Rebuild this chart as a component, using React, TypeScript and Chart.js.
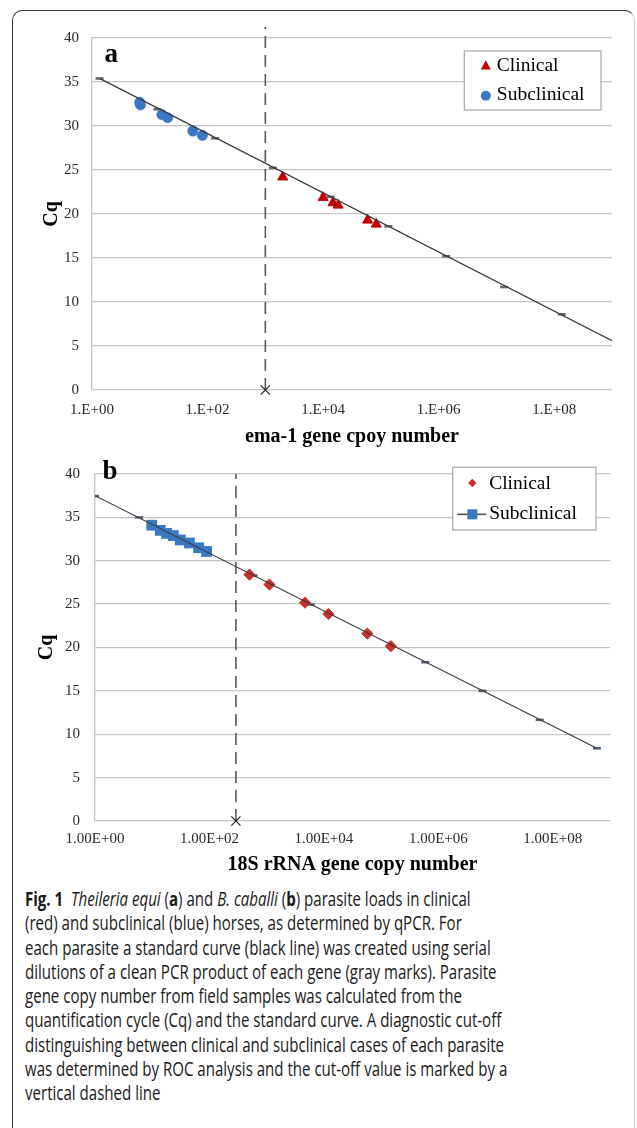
import React, { useEffect, useRef } from 'react';
import { Chart, registerables } from 'chart.js';

Chart.register(...registerables);

// ---------- Panel a: ema-1 (Theileria equi) ----------
const aStdX = [1.35, 13.5, 135, 1350, 13500, 135000, 1350000, 13500000, 135000000];
const aStdY = [35.4, 31.9, 28.6, 25.25, 21.95, 18.6, 15.2, 11.7, 8.6];
const aTrendX = [1.35, 1e9];
const aTrendY = [35.41, 5.6];
const aClinicalX = [2000, 10000, 14800, 18200, 58900, 83200];
const aClinicalY = [24.2, 21.87, 21.26, 21.0, 19.3, 18.84];
const aSubclinicalX = [6.7, 6.9, 16.2, 20.4, 55.6, 81.3];
const aSubclinicalY = [32.7, 32.4, 31.3, 30.95, 29.43, 28.94];
const aCutoffX = [1000, 1000];
const aCutoffY = [0, 41.25];
const aTickValues = [1, 1e2, 1e4, 1e6, 1e8];
const aTickLabels = ['1.E+00', '1.E+02', '1.E+04', '1.E+06', '1.E+08'];

// ---------- Panel b: 18S rRNA (B. caballi) ----------
const bStdX = [1, 5.9, 59, 590, 5900, 59000, 590000, 5900000, 59000000, 590000000];
const bStdY = [37.45, 35.0, 31.62, 28.3, 24.95, 21.66, 18.3, 15.0, 11.66, 8.38];
const bTrendX = [1, 590000000];
const bTrendY = [37.5, 8.38];
const bClinicalX = [500, 1120, 4680, 12000, 57500, 148000];
const bClinicalY = [28.4, 27.25, 25.17, 23.86, 21.6, 20.15];
const bSubclinicalX = [9.8, 13.8, 17.8, 23.4, 30.9, 44.7, 64.6, 89.1];
const bSubclinicalY = [34.1, 33.5, 33.15, 32.9, 32.4, 32.05, 31.5, 31.07];
const bCutoffX = [290, 290];
const bCutoffY = [0, 40];
const bTickValues = [1, 1e2, 1e4, 1e6, 1e8];
const bTickLabels = ['1.00E+00', '1.00E+02', '1.00E+04', '1.00E+06', '1.00E+08'];

const SERIF = "'Liberation Serif', 'Times New Roman', serif";
const GRID = '#c4c4c4';
const RED_A = '#c00000';
const BLUE = '#3b78c4';
const RED_B = '#c8302e';

const xy = (xs: number[], ys: number[]) => xs.map((x, i) => ({ x, y: ys[i] }));

type PanelSpec = {
  letter: string;
  variant: 'a' | 'b';
  stdX: number[]; stdY: number[];
  trendX: number[]; trendY: number[];
  clinX: number[]; clinY: number[];
  subX: number[]; subY: number[];
  cutX: number[]; cutY: number[];
  tickValues: number[]; tickLabels: string[];
  xTitle: string;
  pad: { top: number; right: number };
  yWidth: number; xHeight: number;
  yTitlePad: number; xTitlePad: number; xTickPad: number; yTickPad: number;
  stdColor: string;
  legendBox: [number, number, number, number];
  letterPos: [number, number];
};

function overlayPlugin(p: PanelSpec) {
  return {
    id: 'overlay' + p.variant,
    afterDraw(chart: any) {
      const ctx: CanvasRenderingContext2D = chart.ctx;
      ctx.save();
      // panel letter
      ctx.fillStyle = '#000';
      ctx.font = `bold 27px ${SERIF}`;
      ctx.textBaseline = 'alphabetic';
      ctx.textAlign = 'left';
      ctx.fillText(p.letter, p.letterPos[0], p.letterPos[1]);
      // legend box
      const [lx, ly, lw, lh] = p.legendBox;
      ctx.fillStyle = '#fff';
      ctx.fillRect(lx, ly, lw, lh);
      ctx.strokeStyle = '#a8a8a8';
      ctx.lineWidth = 1.2;
      ctx.strokeRect(lx, ly, lw, lh);
      const row1 = ly + lh * 0.25;
      const row2 = ly + lh * 0.75;
      ctx.font = `19.5px ${SERIF}`;
      ctx.textBaseline = 'middle';
      ctx.fillStyle = '#000';
      if (p.variant === 'a') {
        const mx = lx + 21.5;
        ctx.fillStyle = RED_A;
        ctx.beginPath();
        ctx.moveTo(mx, row1 - 5.5);
        ctx.lineTo(mx + 5, row1 + 3.8);
        ctx.lineTo(mx - 5, row1 + 3.8);
        ctx.closePath();
        ctx.fill();
        ctx.fillStyle = BLUE;
        ctx.beginPath();
        ctx.arc(mx, row2 + 0.5, 5, 0, Math.PI * 2);
        ctx.fill();
        ctx.fillStyle = '#000';
        ctx.fillText('Clinical', lx + 32.5, row1 + 0.5);
        ctx.fillText('Subclinical', lx + 32.5, row2);
      } else {
        const mx = lx + 19.6;
        ctx.fillStyle = RED_B;
        ctx.beginPath();
        ctx.moveTo(mx, row1 - 4.2);
        ctx.lineTo(mx + 4.2, row1);
        ctx.lineTo(mx, row1 + 4.2);
        ctx.lineTo(mx - 4.2, row1);
        ctx.closePath();
        ctx.fill();
        ctx.strokeStyle = '#555';
        ctx.lineWidth = 1.6;
        ctx.beginPath();
        ctx.moveTo(lx + 4.5, row2);
        ctx.lineTo(lx + 33.5, row2);
        ctx.stroke();
        ctx.fillStyle = BLUE;
        ctx.fillRect(mx - 5, row2 - 5, 10, 10);
        ctx.fillStyle = '#000';
        ctx.fillText('Clinical', lx + 36.5, row1 + 0.5);
        ctx.fillText('Subclinical', lx + 36.5, row2);
      }
      ctx.restore();
    },
  };
}

function buildConfig(p: PanelSpec): any {
  const tickFont = { family: SERIF, size: 15 };
  const titleFont = { family: SERIF, size: 20, weight: 'bold' as const };
  return {
    type: 'scatter',
    data: {
      datasets: [
        {
          label: 'trend',
          data: xy(p.trendX, p.trendY),
          showLine: true,
          borderColor: '#3a3a3a',
          borderWidth: 1.2,
          pointRadius: 0,
          order: 0,
        },
        p.variant === 'a'
          ? {
              label: 'Clinical',
              data: xy(p.clinX, p.clinY),
              pointStyle: 'triangle',
              pointRadius: 5.8,
              backgroundColor: RED_A,
              borderColor: RED_A,
              borderWidth: 1,
              order: 1,
            }
          : {
              label: 'Clinical',
              data: xy(p.clinX, p.clinY),
              pointStyle: 'rectRot',
              pointRadius: 5.6,
              backgroundColor: RED_B,
              borderColor: RED_B,
              borderWidth: 1,
              order: 1,
            },
        p.variant === 'a'
          ? {
              label: 'Subclinical',
              data: xy(p.subX, p.subY),
              pointStyle: 'circle',
              pointRadius: 5.2,
              backgroundColor: BLUE,
              borderColor: BLUE,
              borderWidth: 0.5,
              order: 1,
            }
          : {
              label: 'Subclinical',
              data: xy(p.subX, p.subY),
              pointStyle: 'rect',
              pointRadius: 7.6,
              backgroundColor: BLUE,
              borderColor: BLUE,
              borderWidth: 0,
              order: 1,
            },
        {
          label: 'standards',
          data: xy(p.stdX, p.stdY),
          pointStyle: 'line',
          pointRadius: 4,
          borderColor: p.stdColor,
          borderWidth: 2.6,
          order: 2,
        },
        {
          label: 'cutoff',
          data: xy(p.cutX, p.cutY),
          showLine: true,
          borderColor: '#5a5a5a',
          borderWidth: 1.6,
          borderDash: [12, 7],
          pointStyle: 'crossRot',
          pointRadius: [6.5, 0],
          pointBorderColor: '#222',
          pointBorderWidth: 1.2,
          clip: false,
          order: 3,
        },
      ],
    },
    options: {
      responsive: false,
      animation: false,
      devicePixelRatio: 1,
      events: [],
      layout: { padding: { top: p.pad.top, right: p.pad.right, left: 0, bottom: 0 } },
      plugins: { legend: { display: false }, tooltip: { enabled: false } },
      scales: {
        x: {
          type: 'logarithmic',
          position: 'bottom',
          min: 1,
          max: 1e9,
          grid: { display: false, drawTicks: false },
          border: { display: false },
          afterBuildTicks: (axis: any) => {
            axis.ticks = p.tickValues.map((v) => ({ value: v }));
          },
          ticks: {
            autoSkip: false,
            maxRotation: 0,
            padding: p.xTickPad,
            color: '#2a2a2a',
            font: tickFont,
            callback: (_v: any, i: number) => p.tickLabels[i],
          },
          title: {
            display: true,
            text: p.xTitle,
            color: '#000',
            font: titleFont,
            padding: { top: 0, bottom: p.xTitlePad },
          },
          afterFit: (axis: any) => {
            axis.height = p.xHeight;
          },
        },
        y: {
          type: 'linear',
          min: 0,
          max: 40,
          grid: { color: GRID, lineWidth: 1.3, drawTicks: false },
          border: { display: true, color: GRID, width: 1.3 },
          ticks: { stepSize: 5, padding: p.yTickPad, color: '#2a2a2a', font: tickFont },
          title: {
            display: true,
            text: 'Cq',
            color: '#000',
            font: titleFont,
            padding: { top: p.yTitlePad, bottom: 0 },
          },
          afterFit: (axis: any) => {
            axis.width = p.yWidth;
          },
        },
      },
    },
    plugins: [overlayPlugin(p)],
  };
}

const panelA: PanelSpec = {
  letter: 'a',
  variant: 'a',
  stdX: aStdX, stdY: aStdY,
  trendX: aTrendX, trendY: aTrendY,
  clinX: aClinicalX, clinY: aClinicalY,
  subX: aSubclinicalX, subY: aSubclinicalY,
  cutX: aCutoffX, cutY: aCutoffY,
  tickValues: aTickValues, tickLabels: aTickLabels,
  xTitle: 'ema-1 gene cpoy number',
  pad: { top: 38, right: 25 },
  yWidth: 92, xHeight: 60,
  yTitlePad: 40, xTitlePad: 1.3, xTickPad: 11, yTickPad: 13,
  stdColor: '#6a6a6a',
  legendBox: [464.3, 51, 136.7, 59],
  letterPos: [104.5, 62],
};

const panelB: PanelSpec = {
  letter: 'b',
  variant: 'b',
  stdX: bStdX, stdY: bStdY,
  trendX: bTrendX, trendY: bTrendY,
  clinX: bClinicalX, clinY: bClinicalY,
  subX: bSubclinicalX, subY: bSubclinicalY,
  cutX: bCutoffX, cutY: bCutoffY,
  tickValues: bTickValues, tickLabels: bTickLabels,
  xTitle: '18S rRNA gene copy number',
  pad: { top: 5, right: 27 },
  yWidth: 95, xHeight: 59,
  yTitlePad: 35, xTitlePad: 3, xTickPad: 9.3, yTickPad: 15,
  stdColor: '#56667a',
  legendBox: [452.7, 17.3, 143.3, 62.7],
  letterPos: [102.5, 29.3],
};

function PanelChart({ spec, top, height }: { spec: PanelSpec; top: number; height: number }) {
  const ref = useRef<HTMLCanvasElement>(null);
  useEffect(() => {
    if (!ref.current) return;
    const chart = new Chart(ref.current, buildConfig(spec));
    return () => chart.destroy();
  }, [spec]);
  return (
    <canvas
      ref={ref}
      width={637}
      height={height}
      style={{ position: 'absolute', left: 0, top, width: 637, height }}
    />
  );
}

const captionStyle: React.CSSProperties = {
  position: 'absolute',
  left: 24.7,
  top: 887,
  fontFamily: "'Open Sans', 'Noto Sans', sans-serif",
  fontSize: 19.5,
  lineHeight: '24.3px',
  color: '#1a1a1a',
  whiteSpace: 'nowrap',
  transform: 'scaleX(0.772)',
  transformOrigin: 'left top',
};

export default function App() {
  return (
    <div
      style={{
        position: 'absolute',
        left: 0,
        top: 0,
        width: 637,
        height: 1128,
        overflow: 'hidden',
        background: '#fff',
      }}
    >
      <div
        style={{
          position: 'absolute',
          left: 12,
          top: 10,
          width: 621,
          height: 1160,
          borderLeft: '1.5px solid #3a3a3a',
          borderTop: '1.5px solid #3a3a3a',
          borderRight: '1.5px solid #d0d0d0',
          borderTopLeftRadius: 10,
          borderTopRightRadius: 10,
        }}
      />
      <PanelChart spec={panelA} top={0} height={450} />
      <PanelChart spec={panelB} top={450} height={430} />
      <div style={captionStyle}>
        <div>
          <b>Fig. 1</b>&nbsp;&nbsp;<i>Theileria equi</i> (<b>a</b>) and <i>B. caballi</i> (<b>b</b>) parasite loads in clinical
        </div>
        <div>(red) and subclinical (blue) horses, as determined by qPCR. For</div>
        <div>each parasite a standard curve (black line) was created using serial</div>
        <div>dilutions of a clean PCR product of each gene (gray marks). Parasite</div>
        <div>gene copy number from field samples was calculated from the</div>
        <div>quantification cycle (Cq) and the standard curve. A diagnostic cut-off</div>
        <div>distinguishing between clinical and subclinical cases of each parasite</div>
        <div>was determined by ROC analysis and the cut-off value is marked by a</div>
        <div>vertical dashed line</div>
      </div>
    </div>
  );
}
